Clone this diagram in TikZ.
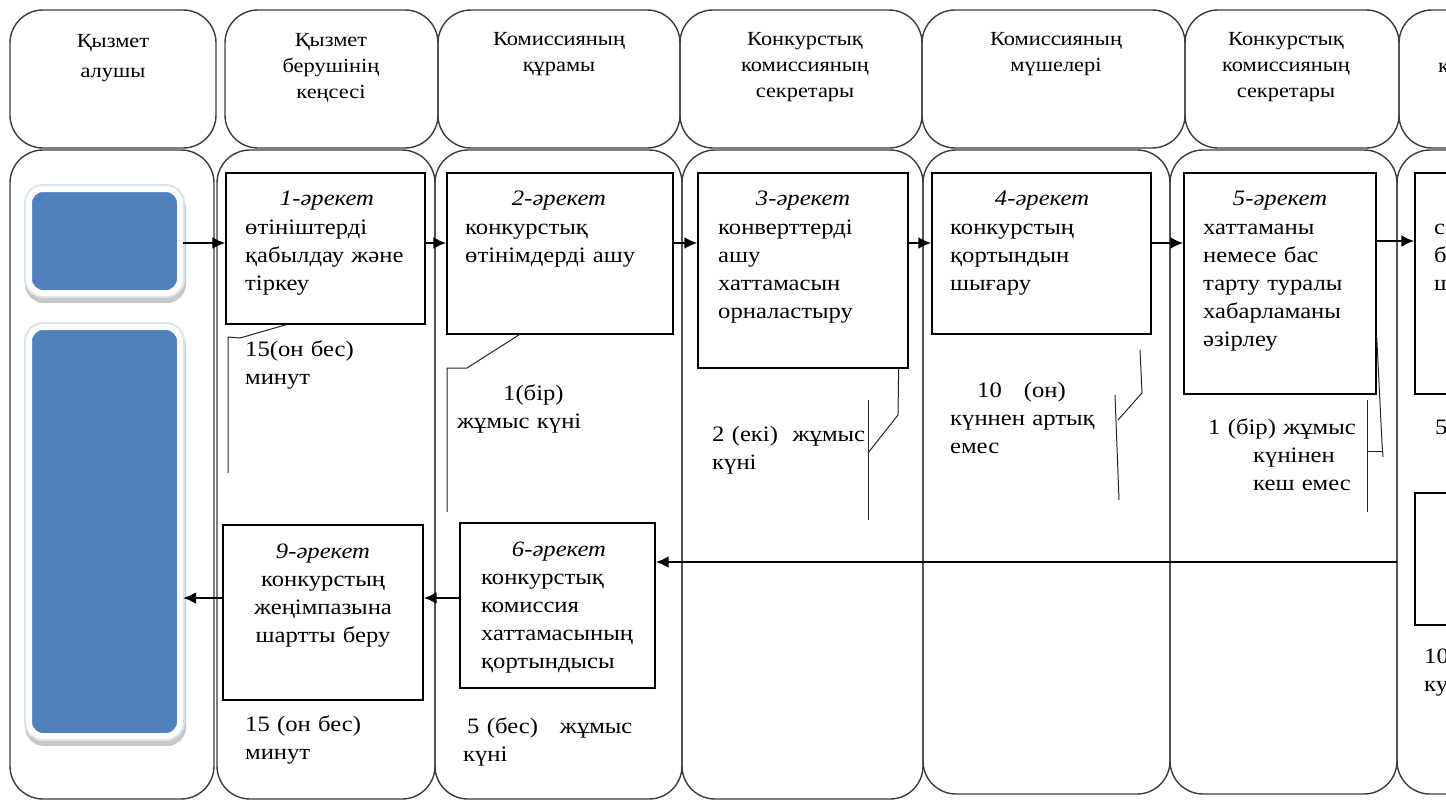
\documentclass[tikz,border=0pt]{standalone}
\usepackage{fontspec}
\setmainfont{Liberation Serif}[FakeStretch=1.12]
\usepackage{tikz}
\usetikzlibrary{arrows.meta, positioning}

\definecolor{laneline}{RGB}{60,60,60}
\definecolor{actorblue}{RGB}{79,129,189}
\definecolor{actorglow}{RGB}{214,227,243}

\begin{document}
\begin{tikzpicture}[
    x=1pt, y=-1pt,
    lane/.style={draw=laneline, line width=1.4pt, rounded corners=33pt},
    act/.style={draw=black, line width=1.3pt, fill=white},
    actor/.style={rounded corners=14pt, fill=actorblue, draw=white, line width=6pt,
        preaction={draw=black!22, line width=10pt, transform canvas={shift={(1pt,-5pt)}}},
        preaction={draw=actorglow, line width=10pt}},
    hdtext/.style={font=\fontsize{20}{26}\selectfont, text width=240pt, align=center, anchor=base, inner sep=0pt},
    txt/.style={font=\fontsize{22}{28}\selectfont, text width=230pt, align=left, anchor=base west, inner sep=0pt},
    ttl/.style={font=\fontsize{22}{28}\selectfont\itshape, anchor=base, inner sep=0pt},
    arr/.style={line width=2.8pt, -{Latex[length=13pt, width=12pt]}},
    leader/.style={draw=black!85, line width=1pt}
]
    \useasboundingbox (0,0) rectangle (1446,801);
    \clip (0,0) rectangle (1446,801);

    \node[lane, minimum width=206, minimum height=138] (h1) at (113,79) {};
    \node[lane, minimum width=213, minimum height=138] (h2) at (331.5,79) {};
    \node[lane, minimum width=242, minimum height=138] (h3) at (559,79) {};
    \node[lane, minimum width=242, minimum height=138] (h4) at (801,79) {};
    \node[lane, minimum width=263, minimum height=138] (h5) at (1053.5,79) {};
    \node[lane, minimum width=214, minimum height=138] (h6) at (1292,79) {};
    \node[lane, minimum width=241, minimum height=138] (h7) at (1519.5,79) {};

    \node[lane, minimum width=204, minimum height=649] (l1) at (112,474.5) {};
    \node[lane, minimum width=218, minimum height=649] (l2) at (326,474.5) {};
    \node[lane, minimum width=247, minimum height=649] (l3) at (558.5,474.5) {};
    \node[lane, minimum width=241, minimum height=649] (l4) at (802.5,474.5) {};
    \node[lane, minimum width=247, minimum height=644] (l5) at (1046.5,472) {};
    \node[lane, minimum width=227, minimum height=644] (l6) at (1283.5,472) {};
    \node[lane, minimum width=243, minimum height=644] (l7) at (1518.5,472) {};

    \node[hdtext, font=\fontsize{20}{30}\selectfont] (t1) at (113,47) {Қызмет\\алушы};
    \node[hdtext] (t2) at (331,46) {Қызмет\\берушінің\\кеңсесі};
    \node[hdtext] (t3) at (559,45) {Комиссияның\\құрамы};
    \node[hdtext] (t4) at (805,45) {Конкурстық\\комиссияның\\секретары};
    \node[hdtext] (t5) at (1056,45) {Комиссияның\\мүшелері};
    \node[hdtext] (t6) at (1286,45) {Конкурстық\\комиссияның\\секретары};
    \node[font=\fontsize{20}{26}\selectfont, anchor=base west, inner sep=0pt] (t7) at (1438,72) {к};

    \node[actor, minimum width=151, minimum height=104] (s1) at (104.5,241) {};
    \node[actor, minimum width=151, minimum height=409] (s2) at (104.5,531.5) {};

    \node[act, minimum width=199, minimum height=151] (b1) at (325.5,248.5) {};
    \node[act, minimum width=226, minimum height=161] (b2) at (560,253.5) {};
    \node[act, minimum width=210, minimum height=195] (b3) at (803,270.5) {};
    \node[act, minimum width=219, minimum height=161] (b4) at (1041.5,253.5) {};
    \node[act, minimum width=192, minimum height=221] (b5) at (1280,283.5) {};
    \node[act, minimum width=225, minimum height=221] (b7) at (1527.5,283.5) {};
    \node[act, minimum width=225, minimum height=132] (b8) at (1527.5,559) {};
    \node[act, minimum width=195, minimum height=165] (b6) at (557.5,605.5) {};
    \node[act, minimum width=200, minimum height=175] (b9) at (323,612.5) {};

    \node[ttl] (n1) at (327,205) {1-әрекет};
    \node[txt] (m1) at (245,234) {өтініштерді\\қабылдау және\\тіркеу};
    \node[ttl] (n2) at (559,205) {2-әрекет};
    \node[txt] (m2) at (465,234) {конкурстық\\өтінімдерді ашу};
    \node[ttl] (n3) at (803,205) {3-әрекет};
    \node[txt] (m3) at (718,234) {конверттерді\\ашу\\хаттамасын\\орналастыру};
    \node[ttl] (n4) at (1042,205) {4-әрекет};
    \node[txt] (m4) at (950,234) {конкурстың\\қортындын\\шығару};
    \node[ttl] (n5) at (1280,205) {5-әрекет};
    \node[txt] (m5) at (1203,234) {хаттаманы\\немесе бас\\тарту туралы\\хабарламаны\\әзірлеу};
    \node[txt] (m7) at (1434,234) {с\\б\\ш};
    \node[ttl] (n6) at (559,556) {6-әрекет};
    \node[txt] (m6) at (481,584) {конкурстық\\комиссия\\хаттамасының\\қортындысы};
    \node[ttl] (n9) at (323,558) {9-әрекет};
    \node[txt, text width=200pt, align=center, anchor=base] (m9) at (323,586) {конкурстың\\жеңімпазына\\шартты беру};

    \node[txt] (d1) at (245,356) {15(он бес)\\минут};
    \node[txt] (d2) at (457,400) {\hspace*{46pt}1(бір)\\жұмыс күні};
    \node[txt] (d3) at (712,441) {2 (екі)\ \ жұмыс\\күні};
    \node[txt] (d4) at (950,397) {\hspace*{27pt}10\ \ \ (он)\\күннен артық\\емес};
    \node[txt] (d5) at (1208,434) {1 (бір) жұмыс\\\hspace*{45pt}күнінен\\\hspace*{45pt}кеш емес};
    \node[txt] (d7) at (1435,434) {5};
    \node[txt] (d6) at (463,733) {\hspace*{4pt}5 (бес)\ \ \ жұмыс\\күні};
    \node[txt] (d9) at (245,731) {15 (он бес)\\минут};
    \node[txt] (d8) at (1424,663) {10\\ку};

    \coordinate (r1) at (0,243);
    \coordinate (r2) at (0,241);
    \coordinate (r3) at (1397,562);
    \coordinate (r4) at (0,598);

    \draw[arr] (s1.east |- r1) -- (b1.west |- r1);
    \draw[arr] (b1.east |- r1) -- (b2.west |- r1);
    \draw[arr] (b2.east |- r1) -- (b3.west |- r1);
    \draw[arr] (b3.east |- r1) -- (b4.west |- r1);
    \draw[arr] (b4.east |- r1) -- (b5.west |- r1);
    \draw[arr] (b5.east |- r2) -- (b7.west |- r2);
    \draw[arr] (r3) -- (b6.east |- r3);
    \draw[arr] (b6.west |- r4) -- (b9.east |- r4);
    \draw[arr] (b9.west |- r4) -- (s2.east |- r4);

    \draw[leader] ([xshift=61pt]b1.south west) -- (240,338) -- (228,337) -- (228,473);
    \draw[leader] ([xshift=73pt]b2.south west) -- (467,368) -- (447,368) -- (447,512);
    \draw[leader] ([xshift=-10pt]b3.south east) -- (898,415) -- (868,453);
    \draw[leader] (868,400) -- (868,520);
    \draw[leader] (1140,350) -- (1142,393) -- (1118,420);
    \draw[leader] (1115,395) -- (1119,500);
    \draw[leader] ([yshift=59pt]b5.south east) -- (1382,443) -- (1383,457);
    \draw[leader] (1367,451) -- (1383,451);
    \draw[leader] (1367,400) -- (1367,512);
\end{tikzpicture}
\end{document}
